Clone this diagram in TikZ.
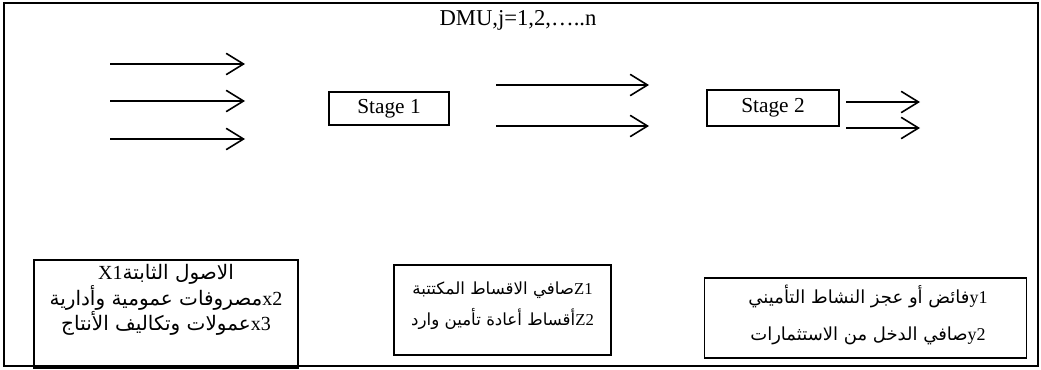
\documentclass[tikz,border=0pt]{standalone}
\usepackage{fontspec}
\setmainfont{Liberation Serif}
\newfontfamily\arabicfont[Script=Arabic]{DejaVu Sans}
\TeXXeTstate=1
\usetikzlibrary{arrows.meta}

% Latin tag set left-to-right inside an Arabic line
\newcommand{\lat}[1]{\beginL{\rmfamily #1}\endL}

\begin{document}
\begin{tikzpicture}[x=0.75pt,y=-0.75pt,
  flow/.style={line width=1.2pt,
    -{Straight Barb[length=13pt,width=16pt,line width=1.2pt]}},
  stagebox/.style={draw,line width=1.1pt,inner sep=0pt,
    font=\fontsize{16}{19}\selectfont},
  varbox/.style={draw,line width=1.1pt,inner sep=0pt},
  vartext/.style 2 args={align=center,inner sep=0pt,
    font=\arabicfont\fontsize{#1}{#2}\selectfont},
  frame/.style={draw,line width=1.5pt}]
  \useasboundingbox (0,0) rectangle (1041,370);

  % outer frame
  \coordinate (fa) at (4,3);
  \coordinate (fb) at (1038,366);
  \draw[frame] (fa) rectangle (fb);

  % title
  \node[font=\fontsize{17}{19}\selectfont] (title) at (518,20) {DMU,j=1,2,\dots..n};

  % the two stages
  \node[stagebox,minimum width=90pt,minimum height=24.75pt] (s1) at (389,108.5) {Stage 1};
  \node[stagebox,minimum width=99pt,minimum height=27pt] (s2) at (773,108) {Stage 2};

  % inputs
  \coordinate (i1a) at (110,64);  \coordinate (i1b) at (245,64);
  \coordinate (i2a) at (110,101); \coordinate (i2b) at (245,101);
  \coordinate (i3a) at (110,139); \coordinate (i3b) at (245,139);
  \draw[flow] (i1a) -- (i1b);
  \draw[flow] (i2a) -- (i2b);
  \draw[flow] (i3a) -- (i3b);

  % intermediate products
  \coordinate (m1a) at (496,85);  \coordinate (m1b) at (649,85);
  \coordinate (m2a) at (496,126); \coordinate (m2b) at (649,126);
  \draw[flow] (m1a) -- (m1b);
  \draw[flow] (m2a) -- (m2b);

  % outputs
  \coordinate (o1a) at (846,102); \coordinate (o1b) at (920,102);
  \coordinate (o2a) at (846,128); \coordinate (o2b) at (920,128);
  \draw[flow] (o1a) -- (o1b);
  \draw[flow] (o2a) -- (o2b);

  % boxes holding the variable lists
  \node[varbox,minimum width=198pt,minimum height=81pt] (vx) at (166,314) {};
  \node[varbox,minimum width=163pt,minimum height=67.5pt] (vz) at (502.5,310) {};
  \node[varbox,minimum width=241.5pt,minimum height=60pt] (vy) at (865.5,318) {};

  % inputs x
  \node[vartext={15}{17.6pt}] (tx) at (166,300) {%
    \beginR الاصول الثابتة\lat{X1}\endR\\
    \beginR\lat{x2}مصروفات عمومية وأدارية\endR\\
    \beginR\lat{x3}عمولات وتكاليف الأنتاج\endR};
  % intermediate measures z
  \node[vartext={12.5}{23pt}] (tz) at (502.5,306) {%
    \beginR\lat{Z1}صافي الاقساط المكتتبة\endR\\
    \beginR\lat{Z2}أقساط أعادة تأمين وارد\endR};
  % outputs y
  \node[vartext={13.5}{27.5pt}] (ty) at (868,315) {%
    \beginR\lat{y1}فائض أو عجز النشاط التأميني\endR\\
    \beginR\lat{y2}صافي الدخل من الاستثمارات\endR};
\end{tikzpicture}
\end{document}
